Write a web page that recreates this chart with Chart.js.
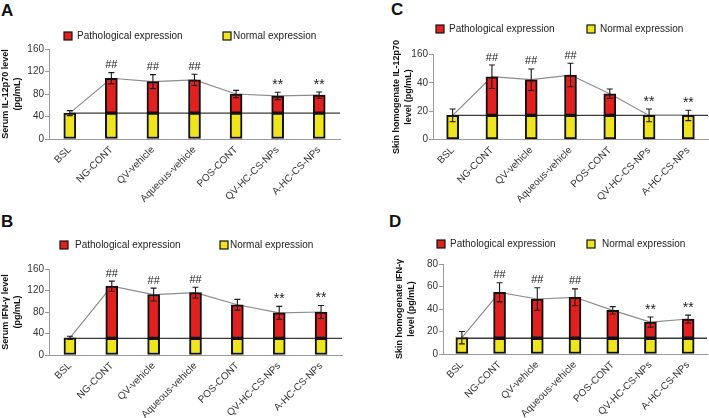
<!DOCTYPE html>
<html><head><meta charset="utf-8">
<script src="https://cdn.jsdelivr.net/npm/chart.js@4.4.1/dist/chart.umd.min.js"></script>
<style>
html,body{margin:0;padding:0;background:#fff;}
body{width:709px;height:418px;position:relative;overflow:hidden;font-family:"Liberation Sans",Arial,sans-serif;}
canvas{position:absolute;display:block;}
.letter{position:absolute;font:bold 17px "Liberation Sans",Arial,sans-serif;line-height:17px;color:#111;}
</style></head><body>
<div class="letter" style="left:1px;top:2px">A</div>
<div class="letter" style="left:1px;top:213px">B</div>
<div class="letter" style="left:391px;top:1px">C</div>
<div class="letter" style="left:389px;top:213px">D</div>
<canvas id="cA" width="355" height="209" style="left:0;top:0"></canvas>
<canvas id="cB" width="355" height="209" style="left:0;top:209px"></canvas>
<canvas id="cC" width="354" height="209" style="left:355px;top:0"></canvas>
<canvas id="cD" width="354" height="209" style="left:355px;top:209px"></canvas>
<script>
// ---------- data ----------
const categories = ['BSL','NG-CONT','QV-vehicle','Aqueous-vehicle','POS-CONT','QV-HC-CS-NPs','A-HC-CS-NPs'];
const marks = ['', '##', '##', '##', '', '**', '**'];
const seriesNames = ['Pathological expression', 'Normal expression'];

// A: Serum IL-12p70
const aNormal = [46, 46, 46, 46, 46, 46, 46];
const aPatho  = [0, 62, 56, 59, 34, 30.5, 32];
const aError  = [4.5, 10, 12.5, 10, 6.5, 6.5, 5.5];
const aTicks  = ['0', '40', '80', '120', '160'];

// B: Serum IFN-γ
const bNormal = [32, 31, 31, 31, 31, 31, 31];
const bPatho  = [0, 97, 81.5, 85, 62.5, 47.5, 49];
const bError  = [3, 9.5, 12, 10, 10, 12, 12];
const bTicks  = ['0', '40', '80', '120', '160'];

// C: Skin homogenate IL-12p70
const cNormal = [17, 17, 17, 17, 17, 17, 17];
const cPatho  = [0, 27.3, 25.2, 28.5, 15.3, 0, 0];
const cError  = [4.5, 8.3, 7.6, 8.3, 3.3, 4.5, 3.7];
const cTicks  = ['0', '20', '40', '160'];

// D: Skin homogenate IFN-γ
const dNormal = [14.5, 14, 14, 14, 14, 14, 14];
const dPatho  = [0, 40.8, 34.9, 36.4, 24.8, 14.4, 17.1];
const dError  = [5.5, 8.5, 10, 7.5, 3.3, 4.5, 3.5];
const dTicks  = ['0', '20', '40', '60', '80'];

// ---------- styling ----------
const FONT = '"Liberation Sans", Arial, sans-serif';
Chart.defaults.font.family = FONT;
const RED = '#e2201f', YELLOW = '#eee51e', EDGE = '#111111', AXIS = '#9a9a9a', TXT = '#333333';

function makeDecor(normal, totals, errors, legend) {
  return {
    id: 'decor',
    beforeDatasetsDraw(chart) {
      const {ctx, chartArea, scales: {x, y}} = chart;
      const yy = y.getPixelForValue(normal[1]);
      ctx.save();
      ctx.strokeStyle = '#3a3a3a'; ctx.lineWidth = 1.3;
      ctx.beginPath(); ctx.moveTo(x.getPixelForValue(0), yy); ctx.lineTo(chartArea.right, yy); ctx.stroke();
      ctx.restore();
    },
    afterDatasetsDraw(chart) {
      const {ctx, scales: {x, y}} = chart;
      ctx.save();
      totals.forEach((t, i) => {
        const cx = x.getPixelForValue(i);
        const top = y.getPixelForValue(t + errors[i]);
        const bot = y.getPixelForValue(t - errors[i]);
        ctx.strokeStyle = '#1a1a1a'; ctx.lineWidth = 1.1;
        ctx.beginPath();
        ctx.moveTo(cx, top); ctx.lineTo(cx, bot);
        ctx.moveTo(cx - 3, top); ctx.lineTo(cx + 3, top);
        ctx.moveTo(cx - 3, bot); ctx.lineTo(cx + 3, bot);
        ctx.stroke();
        if (marks[i]) {
          ctx.fillStyle = '#222';
          ctx.textAlign = 'center'; ctx.textBaseline = 'bottom';
          ctx.font = (marks[i] === '**' ? '14px ' : '11px ') + FONT;
          ctx.fillText(marks[i], cx, top - (marks[i] === '**' ? 0 : 2));
        }
      });
      // legend
      const colors = [RED, YELLOW];
      ctx.font = '10px ' + FONT;
      ctx.textAlign = 'left'; ctx.textBaseline = 'middle';
      seriesNames.forEach((name, k) => {
        const bx = legend.items[k][0], tx = legend.items[k][1], cy = legend.y;
        ctx.fillStyle = colors[k];
        ctx.fillRect(bx, cy - 4, 8, 8);
        ctx.strokeStyle = EDGE; ctx.lineWidth = 1.2;
        ctx.strokeRect(bx, cy - 4, 8, 8);
        ctx.fillStyle = '#222';
        ctx.fillText(name, tx, cy + 0.5);
      });
      ctx.restore();
    }
  };
}

function build(id, cfg) {
  const canvas = document.getElementById(id);
  const W = canvas.width, H = canvas.height;
  const totals = cfg.normal.map((v, i) => v + cfg.patho[i]);
  new Chart(canvas, {
    data: {
      labels: categories,
      datasets: [
        { type: 'bar', label: seriesNames[1], data: cfg.normal, backgroundColor: YELLOW,
          borderColor: EDGE, borderWidth: 2, borderSkipped: false, barThickness: 12, stack: 'bars', order: 1 },
        { type: 'bar', label: seriesNames[0], data: cfg.patho.map(v => v > 0 ? v : null), backgroundColor: RED,
          borderColor: EDGE, borderWidth: 2, borderSkipped: false, barThickness: 12, stack: 'bars', order: 1 },
        { type: 'line', label: 'total', data: totals, borderColor: '#8c8c8c', borderWidth: 1.2,
          pointRadius: 0, tension: 0, fill: false, stack: 'line', order: 2 }
      ]
    },
    options: {
      responsive: false, animation: false, events: [],
      layout: { padding: { left: 0, top: cfg.area.t, right: W - cfg.area.r, bottom: 0 } },
      plugins: { legend: { display: false }, tooltip: { enabled: false } },
      scales: {
        x: {
          stacked: true,
          grid: { display: false, drawTicks: false },
          border: { display: true, color: AXIS, width: 1 },
          ticks: { autoSkip: false, maxRotation: 45, minRotation: 45, padding: 5, color: TXT, font: { size: 10 } },
          afterFit: s => { s.height = H - cfg.area.b; s.paddingLeft = 0; s.paddingRight = 0; }
        },
        y: {
          stacked: true, min: 0, max: cfg.max,
          grid: { drawOnChartArea: false, drawTicks: true, tickLength: 4, color: AXIS },
          border: { display: true, color: AXIS, width: 1 },
          ticks: { stepSize: cfg.step, padding: 1, color: TXT, font: { size: 10 },
                   callback: (v, i) => cfg.ticks[i] },
          title: { display: true, text: cfg.title, color: '#111',
                   font: { size: 9, weight: 'bold', lineHeight: 1.3 }, padding: { top: cfg.titlePad, bottom: 0 } },
          afterFit: s => { s.width = cfg.area.l; s.paddingTop = 0; s.paddingBottom = 0; }
        }
      }
    },
    plugins: [makeDecor(cfg.normal, totals, cfg.error, cfg.legend)]
  });
}

build('cA', { normal: aNormal, patho: aPatho, error: aError, ticks: aTicks, max: 160, step: 40,
  title: ['Serum IL-12p70 level', '(pg/mL)'], titlePad: 0,
  area: { l: 49, t: 49, r: 340, b: 139 }, legend: { y: 36, items: [[64, 77], [223, 233]] } });
build('cB', { normal: bNormal, patho: bPatho, error: bError, ticks: bTicks, max: 160, step: 40,
  title: ['Serum IFN-γ level', '(pg/mL)'], titlePad: 0,
  area: { l: 49, t: 60, r: 342, b: 146 }, legend: { y: 36, items: [[60, 75], [220, 230]] } });
build('cC', { normal: cNormal, patho: cPatho, error: cError, ticks: cTicks, max: 60, step: 20,
  title: ['Skin homogenate IL-12p70', 'level (pg/mL)'], titlePad: 36,
  area: { l: 78, t: 54.5, r: 353, b: 139.5 }, legend: { y: 29, items: [[81, 94], [232, 245]] } });
build('cD', { normal: dNormal, patho: dPatho, error: dError, ticks: dTicks, max: 80, step: 20,
  title: ['Skin homogenate IFN-γ', 'level (pg/mL)'], titlePad: 39,
  area: { l: 88, t: 55, r: 352, b: 145 }, legend: { y: 35, items: [[82, 95], [232, 247]] } });
</script>
</body></html>
